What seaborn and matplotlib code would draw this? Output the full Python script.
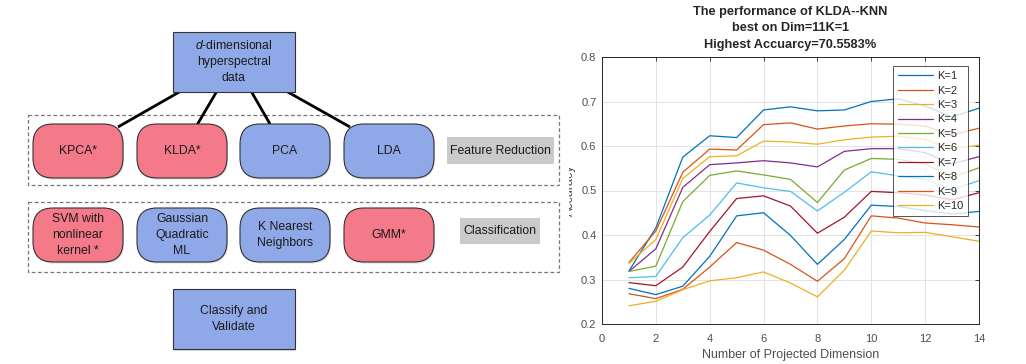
import pandas as pd
import seaborn as sns
import matplotlib.pyplot as plt
from matplotlib.patches import Rectangle, FancyBboxPatch

# accuracy per projected dimension, one list per K
dims = [1, 2, 3, 4, 5, 6, 7, 8, 9, 10, 11, 12, 13, 14]
k1 = [0.319, 0.416, 0.575, 0.623, 0.619, 0.681, 0.688, 0.679, 0.681, 0.700, 0.706, 0.690, 0.665, 0.685]
k2 = [0.338, 0.409, 0.541, 0.593, 0.591, 0.648, 0.652, 0.638, 0.645, 0.650, 0.649, 0.645, 0.625, 0.640]
k3 = [0.336, 0.390, 0.527, 0.576, 0.578, 0.611, 0.609, 0.604, 0.614, 0.620, 0.622, 0.615, 0.593, 0.602]
k4 = [0.318, 0.369, 0.507, 0.558, 0.562, 0.567, 0.562, 0.553, 0.588, 0.594, 0.594, 0.585, 0.560, 0.576]
k5 = [0.318, 0.330, 0.475, 0.534, 0.544, 0.535, 0.525, 0.473, 0.546, 0.572, 0.570, 0.560, 0.530, 0.551]
k6 = [0.304, 0.307, 0.394, 0.445, 0.517, 0.506, 0.498, 0.454, 0.496, 0.542, 0.533, 0.525, 0.502, 0.522]
k7 = [0.293, 0.286, 0.328, 0.408, 0.482, 0.488, 0.465, 0.404, 0.440, 0.498, 0.495, 0.490, 0.479, 0.495]
k8 = [0.280, 0.266, 0.285, 0.352, 0.443, 0.450, 0.399, 0.334, 0.390, 0.467, 0.464, 0.455, 0.447, 0.453]
k9 = [0.268, 0.257, 0.278, 0.328, 0.383, 0.366, 0.334, 0.296, 0.347, 0.443, 0.438, 0.427, 0.423, 0.418]
k10 = [0.241, 0.251, 0.277, 0.297, 0.304, 0.317, 0.292, 0.261, 0.321, 0.409, 0.405, 0.406, 0.396, 0.386]

k_labels = ["K=1", "K=2", "K=3", "K=4", "K=5", "K=6", "K=7", "K=8", "K=9", "K=10"]
x_ticks = [0, 2, 4, 6, 8, 10, 12, 14]
y_ticks = [0.2, 0.3, 0.4, 0.5, 0.6, 0.7, 0.8]

# flowchart boxes
reduction_methods = ["KPCA*", "KLDA*", "PCA", "LDA"]
classifiers = ["SVM with\nnonlinear\nkernel *", "Gaussian\nQuadratic\nML", "K Nearest\nNeighbors", "GMM*"]
reduction_novel = [True, True, False, False]
classifier_novel = [True, False, False, True]

matlab_colors = ["#0072BD", "#D95319", "#EDB120", "#7E2F8E", "#77AC30",
                 "#4DBEEE", "#A2142F", "#0072BD", "#D95319", "#EDB120"]
PINK = "#F47A8A"
BLUE = "#8FA9E8"
GREY = "#CACACA"


def main():
    sns.set_style("white")
    plt.rcParams["font.family"] = ["Liberation Sans", "DejaVu Sans"]
    plt.rcParams["mathtext.fontset"] = "custom"
    plt.rcParams["mathtext.it"] = "Liberation Sans:italic"
    plt.rcParams["mathtext.rm"] = "Liberation Sans"

    fig = plt.figure(figsize=(10.26, 3.64), dpi=100)

    # ---------------- right: line chart ----------------
    series = [k1, k2, k3, k4, k5, k6, k7, k8, k9, k10]
    df = pd.concat(
        [pd.DataFrame({"Dim": dims, "Accuracy": s, "K": lab}) for s, lab in zip(series, k_labels)],
        ignore_index=True,
    )

    ax = fig.add_axes([602 / 1026, 1 - 324 / 364, 377 / 1026, 267 / 364])
    sns.lineplot(data=df, x="Dim", y="Accuracy", hue="K", hue_order=k_labels,
                 palette=matlab_colors, linewidth=0.9, ax=ax, legend=False)

    ax.set_xlim(0, 14)
    ax.set_ylim(0.2, 0.8)
    ax.set_xticks(x_ticks)
    ax.set_yticks(y_ticks)
    ax.set_yticklabels([f"{v:.1f}" for v in y_ticks])
    ax.grid(True, color="#e3e3e3", linewidth=0.7)
    ax.tick_params(direction="in", length=3, width=0.6, top=True, right=True,
                   labelsize=8, labelcolor="#4d4d4d", color="#262626")
    ax.tick_params(axis="x", pad=7)
    ax.tick_params(axis="y", pad=4)
    for sp in ax.spines.values():
        sp.set_color("#262626")
        sp.set_linewidth(0.7)

    ax.set_xlabel("Number of Projected Dimension", fontsize=9, color="#4d4d4d", labelpad=4)
    ax.set_ylabel("Accuracy", fontsize=9, color="#4d4d4d", labelpad=4)
    ax.set_title("The performance of KLDA--KNN\nbest on Dim=11K=1\nHighest Accuarcy=70.5583%",
                 fontsize=9.2, fontweight="bold", linespacing=1.5, pad=6.5)

    handles = [plt.Line2D([], [], color=c, linewidth=0.9) for c in matlab_colors]
    leg = ax.legend(handles, k_labels, loc="upper right", bbox_to_anchor=(0.971, 0.966),
                    borderaxespad=0, fontsize=8, frameon=True, fancybox=False,
                    handlelength=3.2, labelspacing=0.4, borderpad=0.45, handletextpad=0.3)
    leg.get_frame().set_edgecolor("#262626")
    leg.get_frame().set_linewidth(0.7)

    # ---------------- left: flowchart ----------------
    fl = fig.add_axes([0, 0, 569 / 1026, 1])
    fl.set_zorder(3)
    fl.set_xlim(0, 569)
    fl.set_ylim(364, 0)
    fl.set_facecolor("white")
    fl.set_xticks([])
    fl.set_yticks([])
    for sp in fl.spines.values():
        sp.set_visible(False)

    txt = dict(ha="center", va="center", fontsize=8.8, color="#1a1a1a", linespacing=1.4)

    # dashed group frames
    for y0, y1 in [(115, 185), (202, 272)]:
        fl.add_patch(Rectangle((28, y0), 531, y1 - y0, fill=False, edgecolor="#777777",
                               linestyle=(0, (3, 2)), linewidth=0.9))

    # connectors from the data box
    for (xa, xb, yb) in [(181, 118, 127), (217, 197, 125), (251, 270, 124), (286, 350, 127)]:
        fl.plot([xa, xb], [91, yb], color="black", linewidth=2, solid_capstyle="butt", zorder=1)

    # square boxes
    for y0, label in [(31.5, "$\\it{d}$-dimensional\nhyperspectral\ndata"),
                      (289, "Classify and\nValidate")]:
        fl.add_patch(Rectangle((174, y0 + 1.5), 122, 60, facecolor="#dddddd", edgecolor="none"))
        fl.add_patch(Rectangle((173, y0), 122, 60, facecolor=BLUE, edgecolor="#333333", linewidth=0.8))
        fl.text(234, y0 + 30, label, **txt)

    # rounded method boxes
    xs = [33, 137, 240, 344]
    for row_y, names, novel in [(124, reduction_methods, reduction_novel),
                                (208, classifiers, classifier_novel)]:
        for x0, name, nv in zip(xs, names, novel):
            fl.add_patch(FancyBboxPatch((x0 + 1, row_y + 1.5), 90, 54,
                                        boxstyle="round,pad=0,rounding_size=20",
                                        facecolor="#dddddd", edgecolor="none", zorder=2))
            fl.add_patch(FancyBboxPatch((x0, row_y), 90, 54,
                                        boxstyle="round,pad=0,rounding_size=20",
                                        facecolor=PINK if nv else BLUE,
                                        edgecolor="#333333", linewidth=0.8, zorder=3))
            fl.text(x0 + 45, row_y + 27, name, zorder=4, **txt)

    # grey group labels
    fl.add_patch(Rectangle((447, 137), 107, 27, facecolor=GREY, edgecolor="none"))
    fl.text(500.5, 150.5, "Feature Reduction", **txt)
    fl.add_patch(Rectangle((460, 217.5), 80, 26.5, facecolor=GREY, edgecolor="none"))
    fl.text(500, 230.7, "Classification", **txt)

    plt.savefig("out.png", dpi=100)


if __name__ == "__main__":
    main()
